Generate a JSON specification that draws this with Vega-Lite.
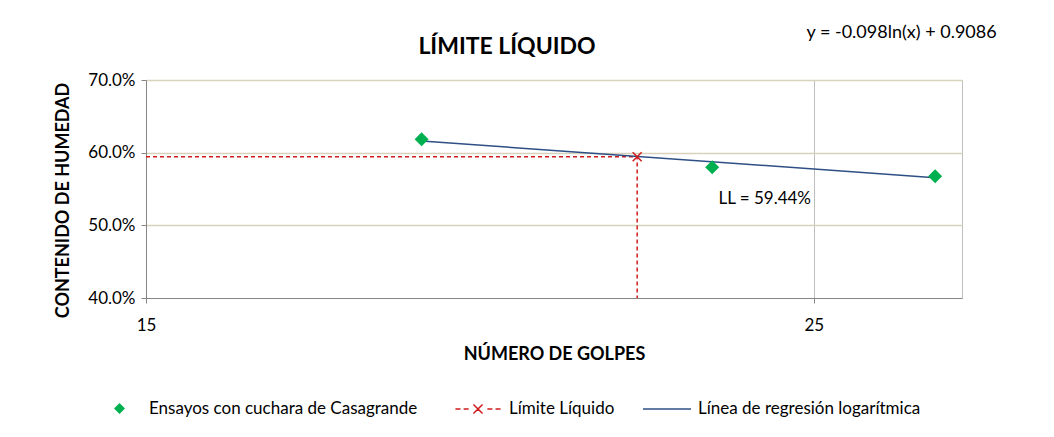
{
  "$schema": "https://vega.github.io/schema/vega-lite/v6.json",
  "width": 816,
  "height": 218,
  "autosize": {"type": "none"},
  "padding": {"left": 146, "top": 80, "right": 92, "bottom": 139},
  "background": "white",
  "title": {"text": "LÍMITE LÍQUIDO", "font": "Lato", "fontSize": 23, "fontWeight": "bold", "color": "#000000", "anchor": "middle", "frame": "group", "dx": -47, "offset": -35},
  "config": {
    "font": "Lato",
    "view": {"stroke": "#BFBFBF", "strokeWidth": 1}
  },
  "resolve": {"scale": {"color": "independent"}, "legend": {"color": "independent"}},
  "datasets": {
    "ensayos": [
      {"golpes": 18.52, "humedad": 0.6184, "serie": "Ensayos con cuchara de Casagrande"},
      {"golpes": 23.13, "humedad": 0.5799, "serie": "Ensayos con cuchara de Casagrande"},
      {"golpes": 27.43, "humedad": 0.5675, "serie": "Ensayos con cuchara de Casagrande"}
    ],
    "limite": [
      {"golpes": 15, "humedad": 0.5944, "orden": 1, "serie": "Límite Líquido"},
      {"golpes": 21.84, "humedad": 0.5944, "orden": 2, "serie": "Límite Líquido"},
      {"golpes": 21.84, "humedad": 0.4, "orden": 3, "serie": "Límite Líquido"}
    ],
    "punto_ll": [
      {"golpes": 21.84, "humedad": 0.5944, "serie": "Límite Líquido"}
    ],
    "regresion": [
      {"golpes": 18.52, "humedad": 0.6161, "serie": "Línea de regresión logarítmica"},
      {"golpes": 27.43, "humedad": 0.5656, "serie": "Línea de regresión logarítmica"}
    ],
    "etiqueta_ll": [
      {"golpes": 23.24, "humedad": 0.5362, "texto": "LL = 59.44%"}
    ],
    "ecuacion": [
      {"golpes": 24.86, "humedad": 0.7645, "texto": "y = -0.098ln(x) + 0.9086"}
    ]
  },
  "encoding": {
    "x": {
      "field": "golpes", "type": "quantitative",
      "scale": {"type": "log", "domain": [15, 28], "nice": false},
      "title": "NÚMERO DE GOLPES",
      "axis": {
        "values": [15, 25], "format": "d", "grid": true,
        "gridColor": {"condition": {"test": "datum.value <= 15", "value": "transparent"}, "value": "#BFBFBF"},
        "gridWidth": 1,
        "domainColor": "#868686", "tickColor": "#868686", "tickSize": 5,
        "labelPadding": 14, "labelFontSize": 17, "labelColor": "#000000", "labelFlush": false, "labelFont": "Lato",
        "titleFontSize": 18, "titleFontWeight": "bold", "titleColor": "#000000", "titleFont": "Lato",
        "titleY": 56, "titleBaseline": "middle"
      }
    },
    "y": {
      "field": "humedad", "type": "quantitative",
      "scale": {"domain": [0.4, 0.7], "nice": false, "zero": false},
      "title": "CONTENIDO DE HUMEDAD",
      "axis": {
        "values": [0.4, 0.5, 0.6, 0.7], "format": ".1%", "grid": true,
        "gridColor": {"condition": {"test": "datum.value <= 0.4", "value": "transparent"}, "value": "#D8D2BA"},
        "gridWidth": 1.5,
        "domainColor": "#868686", "tickColor": "#868686", "tickSize": 5,
        "labelPadding": 6, "labelFontSize": 17, "labelColor": "#000000", "labelFlush": false, "labelFont": "Lato",
        "titleFontSize": 18, "titleFontWeight": "bold", "titleColor": "#000000", "titleFont": "Lato",
        "titleX": -83, "titleY": 120, "titleBaseline": "middle", "titleAngle": 270
      }
    }
  },
  "layer": [
    {
      "data": {"name": "limite"},
      "mark": {"type": "line", "strokeDash": [4, 3], "strokeWidth": 1.5, "opacity": 1, "color": "#D01C1C"},
      "encoding": {
        "order": {"field": "orden", "type": "quantitative"}
      }
    },
    {
      "data": {"name": "regresion"},
      "mark": {"type": "line", "strokeWidth": 1.5, "opacity": 1},
      "encoding": {
        "color": {
          "field": "serie", "type": "nominal",
          "scale": {"range": ["#2D4F86"]},
          "legend": {
            "orient": "none", "legendX": 496, "legendY": 304, "title": null,
            "symbolType": "stroke", "symbolSize": 2304, "symbolStrokeWidth": 1.5,
            "labelFontSize": 17, "labelFont": "Lato", "labelColor": "#000000", "labelLimit": 500,
            "labelOffset": 6, "padding": 0
          }
        }
      }
    },
    {
      "data": {"name": "ensayos"},
      "mark": {"type": "point", "shape": "diamond", "filled": true, "size": 196, "opacity": 1},
      "encoding": {
        "color": {
          "field": "serie", "type": "nominal",
          "scale": {"range": ["#00B050"]},
          "legend": {
            "orient": "none", "legendX": -35, "legendY": 320, "title": null,
            "symbolType": "diamond", "symbolSize": 121, "symbolOpacity": 1,
            "labelFontSize": 17, "labelFont": "Lato", "labelColor": "#000000", "labelLimit": 500,
            "labelOffset": 21, "padding": 0
          }
        }
      }
    },
    {
      "data": {"name": "punto_ll"},
      "mark": {"type": "point", "shape": "M-1,-1L1,1M-1,1L1,-1", "filled": false, "size": 81, "strokeWidth": 1.5, "opacity": 1},
      "encoding": {
        "color": {
          "field": "serie", "type": "nominal",
          "scale": {"range": ["#D01C1C"]},
          "legend": {
            "orient": "none", "legendX": 307, "legendY": 304, "title": null,
            "symbolType": "M-0.94,0H-0.73M-0.6,0H-0.39M-0.19,-0.19L0.19,0.19M-0.19,0.19L0.19,-0.19M0.39,0H0.6M0.73,0H0.94",
            "symbolSize": 2304, "symbolStrokeWidth": 1.5,
            "labelFontSize": 17, "labelFont": "Lato", "labelColor": "#000000", "labelLimit": 500,
            "labelOffset": 6, "padding": 0
          }
        }
      }
    },
    {
      "data": {"name": "etiqueta_ll"},
      "mark": {"type": "text", "align": "left", "baseline": "middle", "fontSize": 17, "font": "Lato", "color": "#000000"},
      "encoding": {
        "text": {"field": "texto", "type": "nominal"}
      }
    },
    {
      "data": {"name": "ecuacion"},
      "mark": {"type": "text", "align": "left", "baseline": "middle", "fontSize": 18, "font": "Lato", "color": "#000000"},
      "encoding": {
        "text": {"field": "texto", "type": "nominal"}
      }
    }
  ]
}
